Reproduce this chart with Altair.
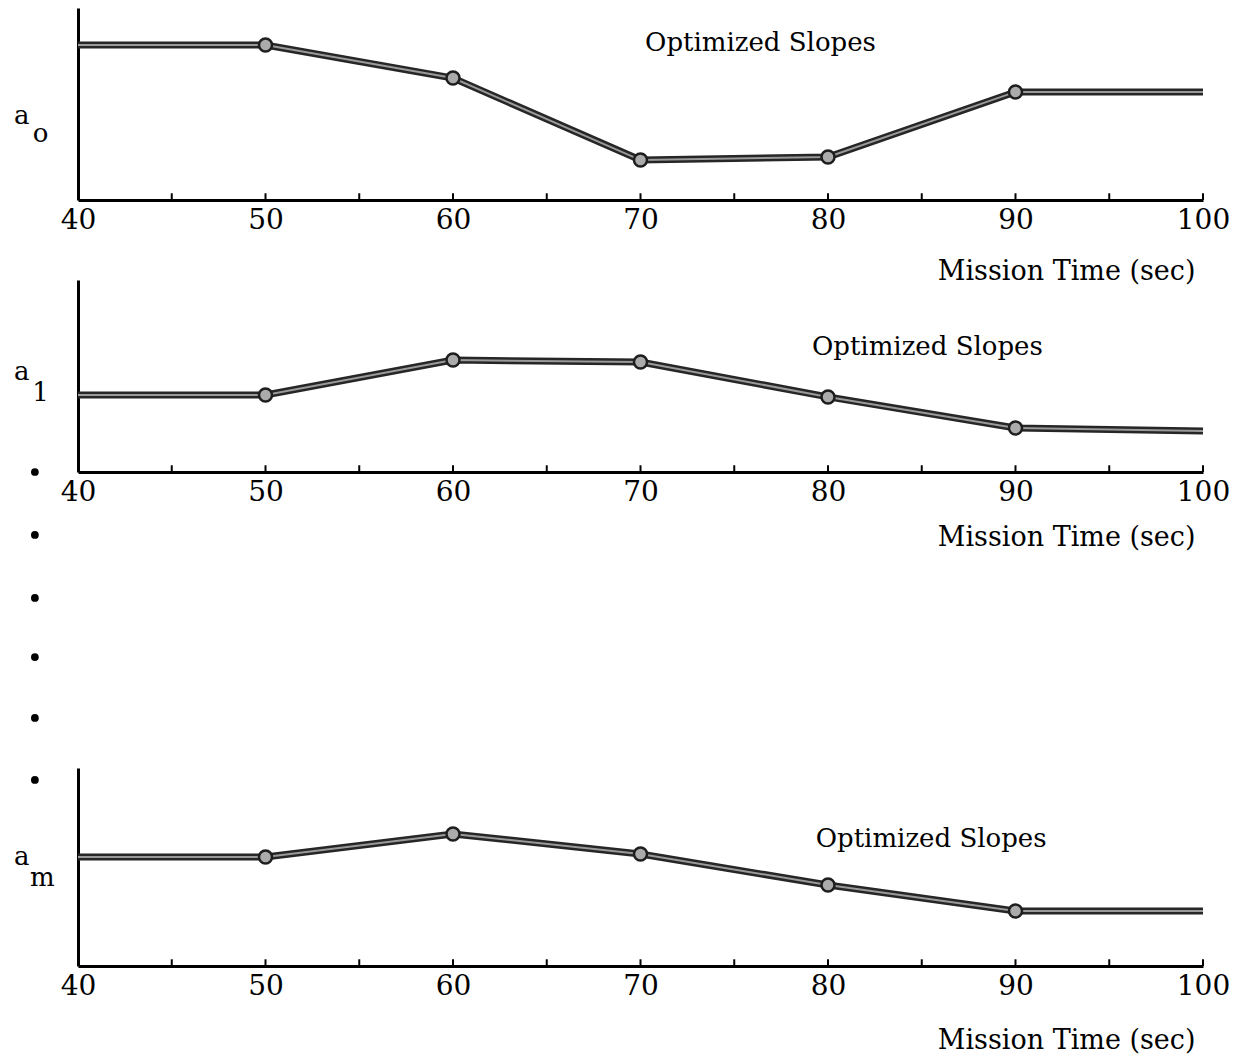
import altair as alt
import pandas as pd

# ---- data ----
times = [40, 50, 60, 70, 80, 90, 100]
a0_vals = [8.07, 8.07, 6.35, 2.08, 2.24, 5.63, 5.63]
a1_vals = [4.01, 4.01, 5.83, 5.73, 3.91, 2.29, 2.14]
am_vals = [5.68, 5.68, 6.88, 5.83, 4.22, 2.86, 2.86]
marker_times = [50, 60, 70, 80, 90]
tick_values = [40, 45, 50, 55, 60, 65, 70, 75, 80, 85, 90, 95, 100]
label_values = [40, 50, 60, 70, 80, 90, 100]
note_text = "Optimized Slopes"
axis_title = "Mission Time (sec)"

# ellipsis dots (panel-2 value units, below its axis)
dot_vals = [0.0, -3.28, -6.56, -9.64, -12.81, -16.04]

FONT = "DejaVu Serif"
W = 1125
PX_PER_UNIT = 19.2


def panel(vals, sym_main, sym_sub, sym_y, sub_y, sub_x, note_x, note_y, height,
          title_y, extra=None):
    ymax = height / PX_PER_UNIT
    xs = alt.Scale(domain=[40, 100], nice=False, zero=False)
    ys = alt.Scale(domain=[0, ymax], nice=False, zero=True)
    line_df = pd.DataFrame({"t": times, "v": vals})
    mk_df = line_df[line_df["t"].isin(marker_times)]
    tick_df = pd.DataFrame({"t": tick_values[1:], "y0": 0.0, "y1": 0.35})

    x_axis = alt.Axis(
        values=label_values, ticks=False, grid=False, domain=True,
        domainColor="black", domainWidth=3, labelFont=FONT, labelFontSize=28,
        labelColor="black", labelPadding=6, labelFlush=False, title=axis_title,
        titleFont=FONT, titleFontSize=27, titleFontWeight="normal",
        titleColor="black", titleAlign="right", titleBaseline="middle",
        titleX=W - 8, titleY=title_y, titleAngle=0,
    )
    y_axis = alt.Axis(
        ticks=False, labels=False, grid=False, domain=True,
        domainColor="black", domainWidth=3, title=None,
    )

    base = alt.Chart(line_df)
    outer = base.mark_line(color="#262626", strokeWidth=7).encode(
        x=alt.X("t:Q", scale=xs, axis=x_axis),
        y=alt.Y("v:Q", scale=ys, axis=y_axis),
    )
    inner = base.mark_line(color="#9a9a9a", strokeWidth=2).encode(
        x=alt.X("t:Q", scale=xs), y=alt.Y("v:Q", scale=ys)
    )
    markers = alt.Chart(mk_df).mark_point(
        shape="circle", size=170, filled=True, fill="#ababab",
        stroke="#1e1e1e", strokeWidth=2.5, opacity=1,
    ).encode(x=alt.X("t:Q", scale=xs), y=alt.Y("v:Q", scale=ys))
    ticks = alt.Chart(tick_df).mark_rule(color="black", strokeWidth=2).encode(
        x=alt.X("t:Q", scale=xs), y=alt.Y("y0:Q", scale=ys), y2="y1:Q"
    )
    sym_df = pd.DataFrame({
        "t": [37.0, sub_x], "v": [sym_y, sub_y], "s": [sym_main, sym_sub]
    })
    syms = alt.Chart(sym_df).mark_text(
        font=FONT, fontSize=26, color="black", align="center", baseline="middle"
    ).encode(x=alt.X("t:Q", scale=xs), y=alt.Y("v:Q", scale=ys), text="s:N")
    note_df = pd.DataFrame({"t": [note_x], "v": [note_y], "s": [note_text]})
    note = alt.Chart(note_df).mark_text(
        font=FONT, fontSize=26, color="black", align="center", baseline="middle"
    ).encode(x=alt.X("t:Q", scale=xs), y=alt.Y("v:Q", scale=ys), text="s:N")

    layers = [ticks, outer, inner, markers, syms, note]
    if extra is not None:
        layers.append(extra(xs, ys))
    return alt.layer(*layers).properties(width=W, height=height)


def dots_layer(xs, ys):
    ddf = pd.DataFrame({"t": [37.7] * len(dot_vals), "v": dot_vals})
    return alt.Chart(ddf).mark_circle(size=60, color="black", opacity=1).encode(
        x=alt.X("t:Q", scale=xs), y=alt.Y("v:Q", scale=ys)
    )


p1 = panel(a0_vals, "a", "o", 4.375, 3.44, 38.0, 76.4, 8.2, 192, 71)
p2 = panel(a1_vals, "a", "1", 5.2, 4.1, 38.0, 85.3, 6.5, 192, 65, extra=dots_layer)
p3 = panel(am_vals, "a", "m", 5.68, 4.58, 38.1, 85.5, 6.6, 198, 74)

spacer = alt.Chart(pd.DataFrame({"t": [0]})).mark_point(opacity=0).encode(
    x=alt.value(0), y=alt.value(0)
).properties(width=W, height=136)

chart = alt.vconcat(p1, p2, spacer, p3, spacing=80, bounds="flush").properties(
    padding={"left": 5, "top": 0, "right": 5, "bottom": 5},
    background="white",
).configure_view(stroke="transparent", strokeWidth=0)

chart.save("out.html", embed_options={"renderer": "svg", "actions": False})
